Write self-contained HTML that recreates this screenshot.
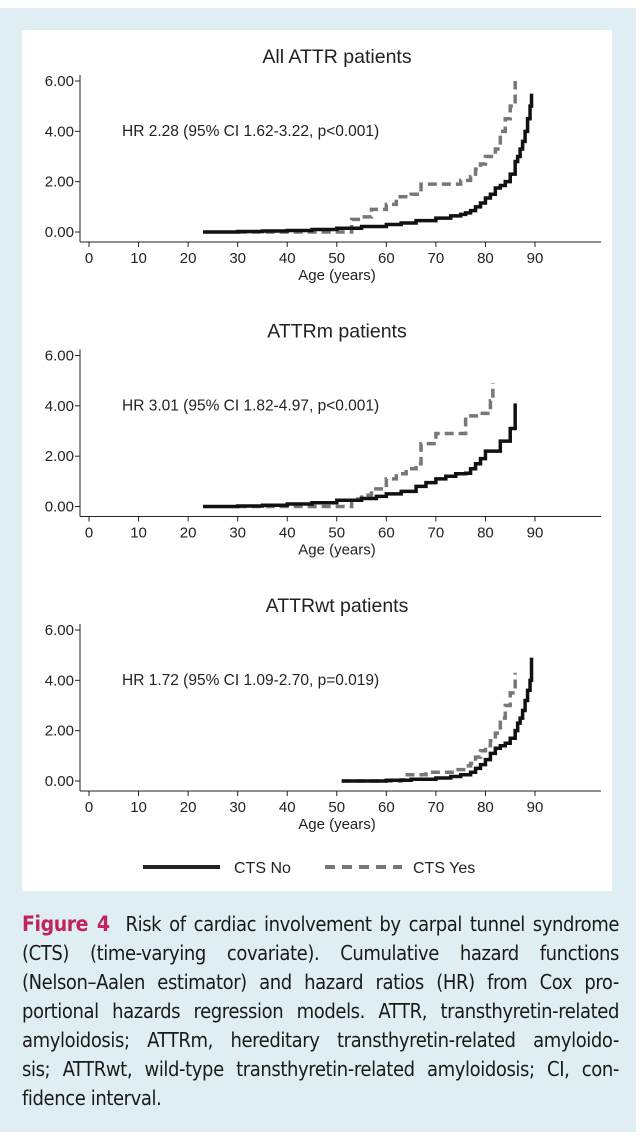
<!DOCTYPE html>
<html><head><meta charset="utf-8">
<style>
body{margin:0;width:643px;height:1143px;background:#fff;overflow:hidden;font-family:"Liberation Sans",sans-serif}
#outer{position:absolute;left:0;top:8px;width:636px;height:1124px;background:#dfeef3}
#white{position:absolute;left:22px;top:30px;width:590px;height:861px;background:#fff}
#cap{position:absolute;left:22px;top:910px;width:597px;font-family:"DejaVu Sans Condensed","Liberation Sans Narrow","Liberation Sans",sans-serif;font-size:20px;line-height:29px;color:#1a1a1a;letter-spacing:-0.4px}
#cap div{text-align:justify;text-align-last:justify;white-space:nowrap}
#cap div.last{text-align-last:left}
#cap b{color:#c0245a;font-weight:bold;font-size:21px}
svg{position:absolute;left:0;top:0}
</style></head><body>
<div id="outer"></div>
<div id="white"></div>
<svg id="chart" width="643" height="900"></svg>
<div id="cap">
<div><b>Figure 4</b>&nbsp; Risk of cardiac involvement by carpal tunnel syndrome</div>
<div>(CTS) (time-varying covariate). Cumulative hazard functions</div>
<div>(Nelson–Aalen estimator) and hazard ratios (HR) from Cox pro-</div>
<div>portional hazards regression models. ATTR, transthyretin-related</div>
<div>amyloidosis; ATTRm, hereditary transthyretin-related amyloido-</div>
<div>sis; ATTRwt, wild-type transthyretin-related amyloidosis; CI, con-</div>
<div class="last">fidence interval.</div>
</div>
<script>
const titles=["All ATTR patients","ATTRm patients","ATTRwt patients"];
const hrLabels=["HR 2.28 (95% CI 1.62-3.22, p<0.001)","HR 3.01 (95% CI 1.82-4.97, p<0.001)","HR 1.72 (95% CI 1.09-2.70, p=0.019)"];
const xTicks=[0,10,20,30,40,50,60,70,80,90];
const yTicks=[0,2,4,6];
const yTickLabels=["0.00","2.00","4.00","6.00"];
const noAge1=[23,30,35,40,45,50,55,60,63,66,70,73,75,76,77,78,79,80,81,82,83,84,85,86,86.5,87,87.5,88,88.5,89,89.3];
const noVal1=[0,0.02,0.04,0.06,0.1,0.15,0.22,0.3,0.36,0.45,0.55,0.64,0.7,0.76,0.85,1.0,1.15,1.35,1.5,1.75,1.85,2.0,2.3,2.8,3.0,3.3,3.6,4.0,4.5,5.0,5.5];
const yesAge1=[30,52,53,55,57,60,62,65,67,71,75,77,78,79,80,82,83,84,85,86];
const yesVal1=[0,0,0.5,0.6,0.9,1.1,1.4,1.5,1.9,1.9,2.05,2.2,2.5,2.7,3.0,3.3,4.0,4.5,5.0,6.0];
const noAge2=[23,30,35,40,45,50,55,58,60,63,66,68,70,72,74,76,77,78,79,80,83,85,86];
const noVal2=[0,0.02,0.05,0.1,0.15,0.25,0.32,0.4,0.5,0.6,0.8,0.95,1.1,1.2,1.3,1.32,1.5,1.7,1.9,2.2,2.6,3.1,4.1];
const yesAge2=[30,52,53,55,57,60,62,64,66,67,70,73,76,79,81,81.5];
const yesVal2=[0,0,0.3,0.45,0.7,1.1,1.3,1.5,1.7,2.5,2.9,2.9,3.6,3.7,4.2,4.9];
const noAge3=[51,60,65,70,73,75,77,78,79,80,81,82,83,84,85,86,86.5,87,87.5,88,88.5,89,89.3];
const noVal3=[0,0.03,0.07,0.12,0.18,0.25,0.35,0.5,0.65,0.85,1.1,1.3,1.4,1.5,1.7,2.0,2.3,2.5,2.8,3.2,3.6,4.0,4.9];
const yesAge3=[51,63,63.5,68,70,74,76,77,78,79,80,81,82,83,84,85,86];
const yesVal3=[0,0.05,0.25,0.35,0.35,0.45,0.6,0.7,0.95,1.2,1.4,1.6,1.9,2.5,3.0,3.5,4.3];
const series=[[noAge1,noVal1,yesAge1,yesVal1],[noAge2,noVal2,yesAge2,yesVal2],[noAge3,noVal3,yesAge3,yesVal3]];
const NS="http://www.w3.org/2000/svg";
const svg=document.getElementById('chart');
function mk(tag,attrs,parent){const e=document.createElementNS(NS,tag);for(const k in attrs)e.setAttribute(k,attrs[k]);(parent||svg).appendChild(e);return e;}
const sx=v=>89+v*(535-89)/90;
for(let p=0;p<3;p++){
  const off=p*274.5;
  const sy=v=>232+off-v*(151/6);
  const g=mk('g',{});
  
  
  const t=mk('text',{x:337,y:63+off,'text-anchor':'middle','font-size':19.5,fill:'#222'},g);t.textContent=titles[p];
  
  
  const ya=mk('line',{x1:80,y1:75+off,x2:80,y2:242+off,stroke:'#222','stroke-width':1},g);
  
  
  const xa=mk('line',{x1:80,y1:242+off,x2:601,y2:242+off,stroke:'#222','stroke-width':1},g);
  
  
  yTicks.forEach((v,i)=>{mk('line',{x1:75,x2:80,y1:sy(v),y2:sy(v),stroke:'#222'},g);
    const l=mk('text',{x:74,y:sy(v)+5,'text-anchor':'end','font-size':15,fill:'#222'},g);l.textContent=yTickLabels[i];
    
    });
  xTicks.forEach(v=>{mk('line',{x1:sx(v),x2:sx(v),y1:242+off,y2:247+off,stroke:'#222'},g);
    const l=mk('text',{x:sx(v),y:263+off,'text-anchor':'middle','font-size':15,fill:'#222'},g);l.textContent=v;
    
    });
  const at=mk('text',{x:337,y:280+off,'text-anchor':'middle','font-size':15,fill:'#222'},g);at.textContent='Age (years)';
  
  
  const hr=mk('text',{x:122,y:136+off,'font-size':15.5,fill:'#222'},g);hr.textContent=hrLabels[p];
  
  
  const [na,nv,ya2,yv]=series[p];
  function step(a,v){let d='M'+sx(a[0])+','+sy(v[0]);for(let i=1;i<a.length;i++){d+=' H'+sx(a[i])+' V'+sy(v[i]);}return d;}
  const yes=mk('path',{d:step(ya2,yv),fill:'none',stroke:'#777','stroke-width':3.5,'stroke-dasharray':'9,5'},g);
  
  
  const no=mk('path',{d:step(na,nv),fill:'none',stroke:'#111','stroke-width':3.5},g);
  
  
}
const lg=mk('g',{});


mk('line',{x1:143,x2:220,y1:867,y2:867,stroke:'#222','stroke-width':4},lg);
const l1=mk('text',{x:234,y:873,'font-size':16,fill:'#222'},lg);l1.textContent='CTS No';


mk('line',{x1:325,x2:402,y1:867,y2:867,stroke:'#777','stroke-width':4,'stroke-dasharray':'10,7'},lg);
const l2=mk('text',{x:413,y:873,'font-size':16,fill:'#222'},lg);l2.textContent='CTS Yes';


</script>
</body></html>
